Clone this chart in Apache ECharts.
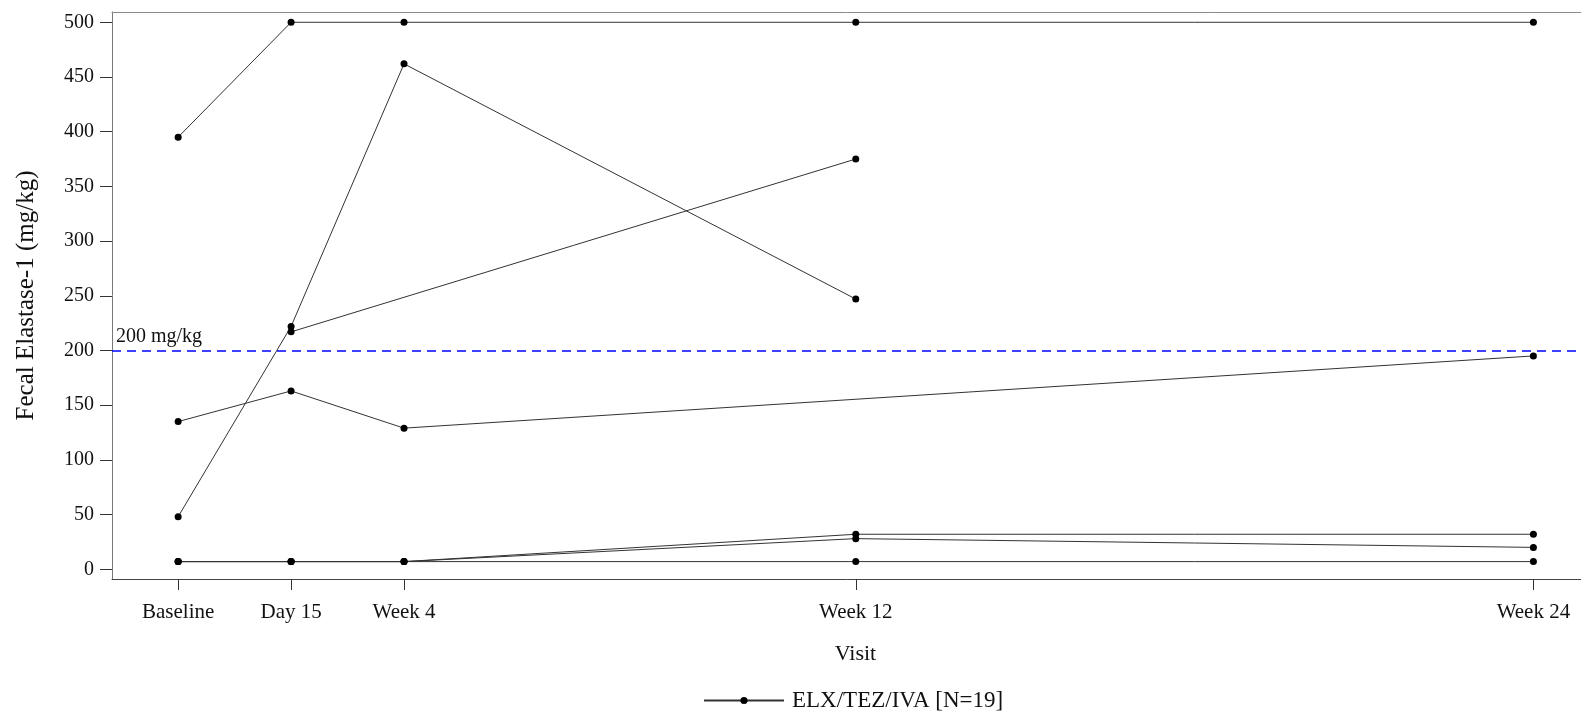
<!DOCTYPE html>
<html>
<head>
<meta charset="utf-8">
<title>Fecal Elastase-1 by Visit</title>
<script src="https://cdn.jsdelivr.net/npm/echarts@6/dist/echarts.min.js"></script>
<style>
  html, body { margin: 0; padding: 0; background: #fff; }
  #chart { width: 1581px; height: 716px; }
</style>
</head>
<body>
<div id="chart"></div>
<script>
// Study day of each visit (baseline = day 0) and its axis label
const visitDays = [0, 14, 28, 84, 168];
const visitLabels = ['Baseline', 'Day 15', 'Week 4', 'Week 12', 'Week 24'];

// Fecal elastase-1 (mg/kg) per subject at each visit; null = no sample
const subject1 = [395, 500, 500, 500, 500];
const subject2 = [48, 222, 462, 247, null];
const subject3 = [null, 217, null, 375, null];
const subject4 = [135, 163, 129, null, 195];
const subject5 = [7, 7, 7, 32, 32];
const subject6 = [7, 7, 7, 28, 20];
const subject7 = [7, 7, 7, 7, 7];
const subjects = [subject1, subject2, subject3, subject4, subject5, subject6, subject7];

const yTicks = [0, 50, 100, 150, 200, 250, 300, 350, 400, 450, 500];
const threshold = 200;
const seriesName = 'ELX/TEZ/IVA [N=19]';

const FONT = '"Liberation Serif", "Times New Roman", serif';
const X_MIN = -8.2;
const X_MAX = 173.9;

const series = subjects.map(function (vals, k) {
  const pts = [];
  vals.forEach(function (v, i) {
    if (v !== null) pts.push([visitDays[i], v]);
  });
  const s = {
    name: seriesName,
    type: 'line',
    data: pts,
    symbol: 'circle',
    symbolSize: 7,
    showSymbol: true,
    itemStyle: { color: '#000' },
    lineStyle: { color: '#333', width: 1 },
    emphasis: { disabled: true },
    z: 3
  };
  if (k === 0) {
    s.markLine = {
      silent: true,
      symbol: ['none', 'none'],
      lineStyle: { color: '#0000ff', type: [9, 6], width: 1.5 },
      label: {
        show: true,
        position: 'insideStartTop',
        formatter: '200 mg/kg',
        fontFamily: FONT,
        fontSize: 20,
        color: '#111',
        distance: 4
      },
      data: [{ yAxis: threshold }]
    };
  }
  return s;
});

const chart = echarts.init(document.getElementById('chart'));
chart.setOption({
  animation: false,
  backgroundColor: '#fff',
  grid: {
    left: 112,
    top: 12,
    right: 0,
    height: 567,
    show: false,
    containLabel: false
  },
  legend: {
    data: [seriesName],
    left: 698,
    top: 684,
    itemWidth: 80,
    itemHeight: 9,
    textStyle: { fontFamily: FONT, fontSize: 23, color: '#111', padding: [0, 0, 0, 3] }
  },
  xAxis: [{
    type: 'value',
    position: 'bottom',
    min: X_MIN,
    max: X_MAX,
    name: 'Visit',
    nameLocation: 'middle',
    nameGap: 64,
    nameTextStyle: { fontFamily: FONT, fontSize: 22, color: '#111', padding: [0, 0, 0, 18] },
    axisLine: { show: true, onZero: false, lineStyle: { color: '#444', width: 1 } },
    axisTick: { show: true, length: 11, lineStyle: { color: '#333' }, customValues: visitDays },
    axisLabel: {
      customValues: visitDays,
      margin: 23,
      fontFamily: FONT,
      fontSize: 21,
      color: '#111',
      formatter: function (v) {
        const i = visitDays.indexOf(v);
        return i >= 0 ? visitLabels[i] : '';
      }
    },
    splitLine: { show: false }
  }, {
    // top frame line of the plot area
    type: 'value',
    position: 'top',
    min: X_MIN,
    max: X_MAX,
    axisLine: { show: true, onZero: false, lineStyle: { color: '#8a8a8a', width: 1 } },
    axisTick: { show: false },
    axisLabel: { show: false },
    splitLine: { show: false }
  }],
  yAxis: {
    type: 'value',
    min: -8.9,
    max: 509.4,
    name: 'Fecal Elastase-1 (mg/kg)',
    nameLocation: 'middle',
    nameGap: 73,
    nameTextStyle: { fontFamily: FONT, fontSize: 25, color: '#111' },
    axisLine: { show: true, onZero: false, lineStyle: { color: '#777', width: 1 } },
    axisTick: { show: true, length: 12, lineStyle: { color: '#333' }, customValues: yTicks },
    axisLabel: {
      customValues: yTicks,
      margin: 18,
      fontFamily: FONT,
      fontSize: 20,
      color: '#111'
    },
    splitLine: { show: false }
  },
  series: series
});
</script>
</body>
</html>
